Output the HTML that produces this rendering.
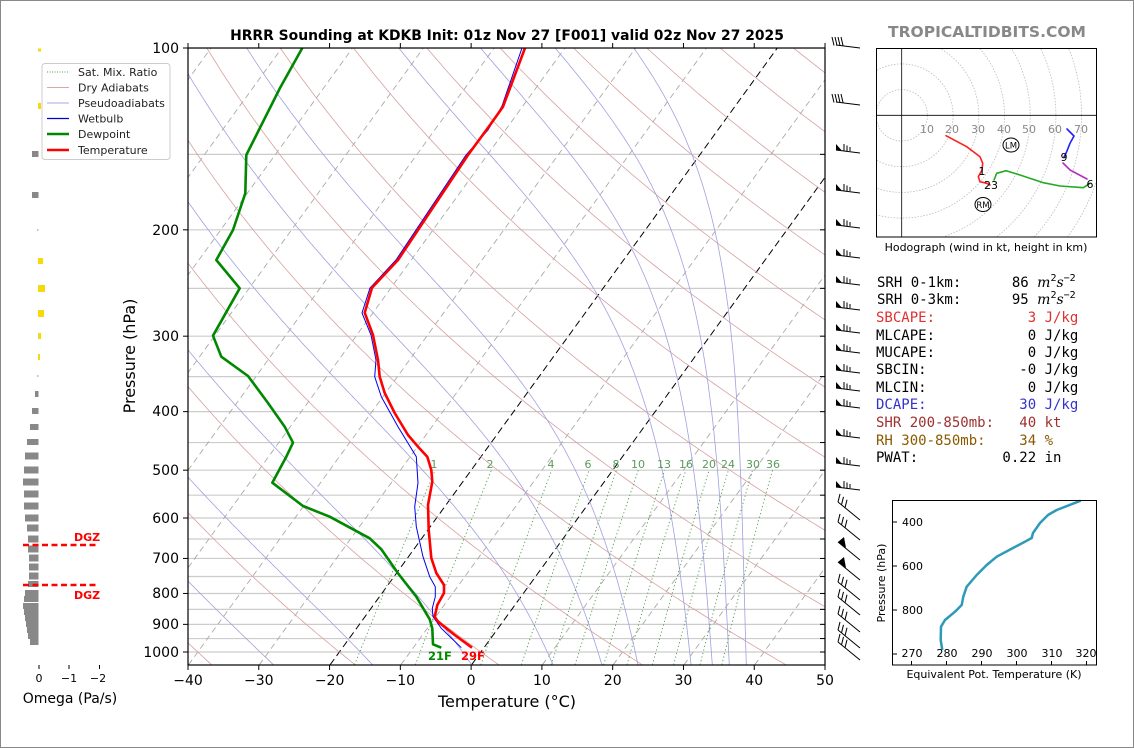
<!DOCTYPE html>
<html><head><meta charset="utf-8"><style>
html,body{margin:0;padding:0;background:#fff;}
svg{display:block;font-family:"DejaVu Sans","Liberation Sans",sans-serif;}
.pre{white-space:pre;}
</style></head><body>
<svg id="s" width="1134" height="748" viewBox="0 0 1134 748" xmlns="http://www.w3.org/2000/svg">
<rect x="0.5" y="0.5" width="1133" height="747" fill="#fff" stroke="#888"/>
<defs>
<clipPath id="cp"><rect x="188" y="48" width="637" height="617"/></clipPath>
<clipPath id="hc"><rect x="876" y="48" width="220" height="189"/></clipPath>
</defs>
<g id="bg" clip-path="url(#cp)"></g>
<g id="prof" clip-path="url(#cp)">
<polyline fill="none" stroke="#0000ee" stroke-width="1" points="522,48 502,106 488,130 466,155 396,260 370,288 362,313 371,335 376,360 374.7,376.7 381.3,396.7 398,426.7 416.3,456.7 418,483 414.7,506.7 416.3,526.7 423,556.7 429.7,576.7 435.3,586.7 435.3,596.7 432.3,608.3 433,616.7 441.3,628.3 461.3,647.7"/>
<polyline fill="none" stroke="#008800" stroke-width="2.6" stroke-linejoin="round" points="302.3,48 280,88 246.3,155 245.3,193.3 233,230 216.3,260 239.7,288.3 213,335.7 221.3,356.7 248,376 268,403 284.7,426.7 293,442.7 286.3,456.7 272.3,482.7 303,506 329.7,516.7 369.7,538.3 381.3,549.3 398,573.3 416.3,596.7 429.7,619.3 432.3,628.3 433,644.3 441.3,647.7"/>
<polyline fill="none" stroke="#ff0000" stroke-width="2.6" stroke-linejoin="round" points="525,48 503,106.7 490,125 468,155 398,260 372,287.7 364.7,312.7 373,335 378,360 379.7,376.7 384.7,393 394.7,413 408,435 418,446.7 427.3,456.7 431.3,470 432.3,481.7 428,505 428.7,530 431.3,558 436.3,573 444,585 444,593 437.3,605 434.7,616.7 438,621.7 454.7,635 472,647.7"/>
</g>
<g font-size="11" fill="#5a9a5a" text-anchor="middle">
<text x="434" y="468">1</text><text x="490" y="468">2</text><text x="551" y="468">4</text><text x="588" y="468">6</text><text x="616" y="468">8</text><text x="638" y="468">10</text><text x="664" y="468">13</text><text x="686" y="468">16</text><text x="709" y="468">20</text><text x="728" y="468">24</text><text x="753" y="468">30</text><text x="773" y="468">36</text>
</g>
<text x="428" y="660" font-size="11.5" font-weight="bold" fill="#008800">21F</text>
<text x="461" y="660" font-size="11.5" font-weight="bold" fill="#ff0000">29F</text>
<rect x="188" y="48" width="637" height="617" fill="none" stroke="#000" stroke-width="1.2"/>
<g id="ticks" stroke="#000" stroke-width="1"></g>
<g font-size="14" fill="#000" text-anchor="end">
<text x="179" y="53">100</text><text x="179" y="235">200</text><text x="179" y="341">300</text><text x="179" y="416">400</text><text x="179" y="475">500</text><text x="179" y="523">600</text><text x="179" y="563">700</text><text x="179" y="598">800</text><text x="179" y="629">900</text><text x="179" y="657">1000</text>
</g>
<g font-size="14" fill="#000" text-anchor="middle">
<text x="188" y="685">−40</text><text x="258.8" y="685">−30</text><text x="329.6" y="685">−20</text><text x="400.3" y="685">−10</text><text x="471.1" y="685">0</text><text x="541.9" y="685">10</text><text x="612.7" y="685">20</text><text x="683.4" y="685">30</text><text x="754.2" y="685">40</text><text x="825" y="685">50</text>
</g>
<text x="507" y="707" font-size="16" text-anchor="middle">Temperature (°C)</text>
<text transform="translate(135,356) rotate(-90)" font-size="16" text-anchor="middle">Pressure (hPa)</text>
<text x="507" y="40" font-size="13.9" font-weight="bold" text-anchor="middle">HRRR Sounding at KDKB Init: 01z Nov 27 [F001] valid 02z Nov 27 2025</text>
<text x="987" y="37" font-size="15.5" font-weight="bold" fill="#888" text-anchor="middle">TROPICALTIDBITS.COM</text>
<rect x="42" y="63.5" width="128" height="96" rx="3" fill="#fff" stroke="#ccc"/>
<g font-size="11" fill="#222">
<line x1="47" y1="72" x2="69" y2="72" stroke="#4a4" stroke-dasharray="1,1.5"/><text x="78" y="76">Sat. Mix. Ratio</text>
<line x1="47" y1="87.5" x2="69" y2="87.5" stroke="#d9a8a8"/><text x="78" y="91.5">Dry Adiabats</text>
<line x1="47" y1="103" x2="69" y2="103" stroke="#aaaadd"/><text x="78" y="107">Pseudoadiabats</text>
<line x1="47" y1="118.5" x2="69" y2="118.5" stroke="#0000cc" stroke-width="1.2"/><text x="78" y="122.5">Wetbulb</text>
<line x1="47" y1="134" x2="69" y2="134" stroke="#008800" stroke-width="2.5"/><text x="78" y="138">Dewpoint</text>
<line x1="47" y1="150" x2="69" y2="150" stroke="#ff0000" stroke-width="2.5"/><text x="78" y="154">Temperature</text>
</g>
<g id="barbs" stroke="#000" stroke-width="1" fill="#000"></g>
<g id="om" fill="#888"></g>
<g fill="#f5d90a">
<rect x="38" y="48.5" width="3" height="3"/><rect x="38" y="103" width="3" height="6"/>
<rect x="38" y="258" width="5" height="6"/><rect x="38" y="285" width="7" height="7"/><rect x="38" y="310" width="6" height="7"/><rect x="38" y="333" width="3" height="6"/><rect x="38" y="354" width="2" height="6"/>
</g>
<g stroke="#ff0000" stroke-width="2.5" stroke-dasharray="6,3.5">
<line x1="23" y1="545" x2="99" y2="545"/><line x1="23" y1="585" x2="99" y2="585"/>
</g>
<text x="74" y="541" font-size="11" font-weight="bold" fill="#ff0000">DGZ</text>
<text x="74" y="599" font-size="11" font-weight="bold" fill="#ff0000">DGZ</text>
<g stroke="#000"><line x1="39" y1="665" x2="39" y2="669"/><line x1="69" y1="665" x2="69" y2="669"/><line x1="99.5" y1="665" x2="99.5" y2="669"/></g>
<g font-size="11" text-anchor="middle"><text x="39" y="682">0</text><text x="69" y="682">−1</text><text x="98" y="682">−2</text></g>
<text x="70" y="703" font-size="14" text-anchor="middle">Omega (Pa/s)</text>
<g id="hod" clip-path="url(#hc)"></g>
<line x1="876" y1="115.3" x2="1096" y2="115.3" stroke="#000" stroke-width="0.8"/>
<line x1="901.7" y1="48" x2="901.7" y2="237" stroke="#000" stroke-width="0.8"/>
<g font-size="11" fill="#888" text-anchor="middle">
<text x="927" y="133">10</text><text x="952" y="133">20</text><text x="978" y="133">30</text><text x="1004" y="133">40</text><text x="1029" y="133">50</text><text x="1055" y="133">60</text><text x="1081" y="133">70</text>
</g>
<g fill="none" stroke-width="1.6" stroke-linecap="round">
<polyline stroke="#ff2020" points="946,135.7 966.7,146.7 980,156.7 982.7,163.3 982,170 978.3,176.7 980,181.7 986.7,183.3 990,185"/>
<polyline stroke="#22aa22" points="994,180 996.7,173.3 1006,170.7 1020,175 1043.3,182.7 1060,186 1083.3,187.7 1090,183.3"/>
<polyline stroke="#b030c0" points="1087,179 1070,170 1063,163"/>
<polyline stroke="#2020ff" points="1064,157 1066.7,151.7 1070,143.3 1074,136 1067,129"/>
</g>
<g font-size="11" fill="#000" text-anchor="middle">
<text x="982" y="175">1</text><text x="991" y="189">23</text><text x="1090" y="188">6</text><text x="1064" y="161">9</text>
</g>
<ellipse cx="1011" cy="145" rx="8" ry="7" fill="#fff" stroke="#000"/><text x="1011" y="148.5" font-size="8.5" text-anchor="middle">LM</text>
<ellipse cx="983" cy="204.5" rx="8" ry="7" fill="#fff" stroke="#000"/><text x="983" y="208" font-size="8.5" text-anchor="middle">RM</text>
<rect x="876.5" y="48.5" width="220" height="188.5" fill="none" stroke="#000"/>
<text x="986" y="251" font-size="11" text-anchor="middle">Hodograph (wind in kt, height in km)</text>
<g font-family="'DejaVu Sans Mono','Liberation Mono',monospace" font-size="14" class="pre">
<text x="877" y="287" class="pre">SRH 0-1km:      86 <tspan font-style="italic" font-family="DejaVu Serif,serif">m</tspan><tspan font-size="10" dy="-6">2</tspan><tspan font-style="italic" font-family="DejaVu Serif,serif" dy="6">s</tspan><tspan font-size="10" dy="-6">−2</tspan></text>
<text x="877" y="304" class="pre">SRH 0-3km:      95 <tspan font-style="italic" font-family="DejaVu Serif,serif">m</tspan><tspan font-size="10" dy="-6">2</tspan><tspan font-style="italic" font-family="DejaVu Serif,serif" dy="6">s</tspan><tspan font-size="10" dy="-6">−2</tspan></text>
<text x="876" y="322" fill="#e03030" class="pre">SBCAPE:           3 J/kg</text>
<text x="876" y="340" class="pre">MLCAPE:           0 J/kg</text>
<text x="876" y="357" class="pre">MUCAPE:           0 J/kg</text>
<text x="876" y="374" class="pre">SBCIN:           -0 J/kg</text>
<text x="876" y="392" class="pre">MLCIN:            0 J/kg</text>
<text x="876" y="409" fill="#3333cc" class="pre">DCAPE:           30 J/kg</text>
<text x="876" y="427" fill="#a03030" class="pre">SHR 200-850mb:   40 kt</text>
<text x="876" y="445" fill="#8b5a00" class="pre">RH 300-850mb:    34 %</text>
<text x="876" y="462" class="pre">PWAT:          0.22 in</text>
</g>
<polyline fill="none" stroke="#2e9ab8" stroke-width="2.5" stroke-linejoin="round" points="1080.7,500.7 1056.7,510 1048,515 1040,523 1033,533 1031.7,538 1025,541.7 1013,548 996.7,556.7 986.7,565 976.7,575 966.7,586.7 963.3,596.7 961.7,605 955,611.7 945,620 941,626.7 940.7,640 942.3,650"/>
<rect x="892.5" y="500.5" width="204" height="164.5" fill="none" stroke="#000"/>
<g stroke="#000"><line x1="893" y1="522" x2="897" y2="522"/><line x1="893" y1="566" x2="897" y2="566"/><line x1="893" y1="610" x2="897" y2="610"/><line x1="893" y1="654" x2="897" y2="654"/>
<line x1="911.5" y1="665" x2="911.5" y2="661"/><line x1="946.5" y1="665" x2="946.5" y2="661"/><line x1="981.5" y1="665" x2="981.5" y2="661"/><line x1="1016.5" y1="665" x2="1016.5" y2="661"/><line x1="1051.5" y1="665" x2="1051.5" y2="661"/><line x1="1086.5" y1="665" x2="1086.5" y2="661"/></g>
<g font-size="11" text-anchor="start"><text x="902" y="526">400</text><text x="902" y="570">600</text><text x="902" y="614">800</text></g>
<g font-size="11" text-anchor="middle"><text x="912" y="657">270</text><text x="947" y="657">280</text><text x="982" y="657">290</text><text x="1017" y="657">300</text><text x="1052" y="657">310</text><text x="1086" y="657">320</text></g>
<text x="994" y="678" font-size="11" text-anchor="middle">Equivalent Pot. Temperature (K)</text>
<text transform="translate(885,583) rotate(-90)" font-size="11" text-anchor="middle">Pressure (hPa)</text>
</svg>
<script>
var NS="http://www.w3.org/2000/svg";
function el(p,n,a){var e=document.createElementNS(NS,n);for(var k in a)e.setAttribute(k,a[k]);p.appendChild(e);return e;}
var X0=471.5,K=7.078,SK=0.725,YB=665;
function Y(p){return 48+604*Math.log10(p/100);}
function X(T,p){return X0+K*T+SK*(YB-Y(p));}
var bg=document.getElementById('bg');
function pl(pts,a){a.points=pts.map(function(q){return q[0].toFixed(1)+','+q[1].toFixed(1)}).join(' ');a.fill='none';el(bg,'polyline',a);}
for(var p=100;p<=1000;p+=50){el(bg,'line',{x1:188,x2:825,y1:Y(p),y2:Y(p),stroke:'#ccc','stroke-width':1.2});}
for(var T=-130;T<=50;T+=10){var blk=(T==0||T==-20);pl([[X(T,1050),Y(1050)],[X(T,100),Y(100)]],{stroke:blk?'#000':'#aaa','stroke-width':blk?1:0.9,'stroke-dasharray':blk?'7,4':'6,4'});}
for(var th=233.15;th<=600;th+=20){var a=[];for(var p=1050;p>=100;p-=10){var t=th*Math.pow(p/1000,0.2857)-273.15;a.push([X(t,p),Y(p)]);}pl(a,{stroke:'#d9a0a0','stroke-width':0.8});}
function es(t){return 6.112*Math.exp(17.67*t/(t+243.5));}
function dTdp(t,p){var Tk=t+273.15,e=es(t),rs=0.622*e/(p-e),Lv=2.501e6,Rd=287.04,Cp=1005.7;return (1/p)*(Rd*Tk+Lv*rs)/(Cp+Lv*Lv*rs*0.622/(Rd*Tk*Tk));}
[-40,-28,-14,0,11.5,18.4,23.5,31,34,36.4,38.8].forEach(function(t0){var a=[],t=t0;for(var p=1050;p>=100;p-=2){a.push([X(t,p),Y(p)]);t-=dTdp(t,p)*2;}pl(a,{stroke:'#a0a0e0','stroke-width':0.8});});
[1,2,4,6,8,10,13,16,20,24,30,36].forEach(function(w){var a=[];for(var p=1050;p>=500;p-=10){var e=w*p/(622+w),L=Math.log(e/6.112),td=243.5*L/(17.67-L);a.push([X(td,p),Y(p)]);}pl(a,{stroke:'#4a9a4a','stroke-width':0.9,'stroke-dasharray':'1.2,2.5'});});
var tk=document.getElementById('ticks');
[100,200,300,400,500,600,700,800,900,1000].forEach(function(p){el(tk,'line',{x1:183,x2:188,y1:Y(p),y2:Y(p)});});
for(var p=100;p<=1000;p+=50){el(tk,'line',{x1:820,x2:825,y1:Y(p),y2:Y(p)});}
for(var i=0;i<=9;i++){var x=188+70.78*i;el(tk,'line',{x1:x,x2:x,y1:665,y2:670});el(tk,'line',{x1:x,x2:x,y1:43,y2:48});}
var bb=document.getElementById('barbs');
[45,102,150,190,225,255,282,307,330,350,370,388,405,435,463,487].forEach(function(y,i){
 el(bb,'line',{x1:836,y1:y,x2:860,y2:y+3});
 if(i>1){el(bb,'polygon',{points:'836,'+(y-6)+' 836,'+y+' 842,'+(y+0.8),stroke:'none'});for(var j=0;j<3;j++){var x=844+j*3;el(bb,'line',{x1:x,y1:y+1,x2:x,y2:y-6+j*1.5});}}
 else{for(var j=0;j<4;j++){var x=834+j*3;el(bb,'line',{x1:x,y1:y+0.5,x2:x-2,y2:y-8});}}
});
[510,530,550,570,590,605,622,638,650].forEach(function(y,i){
 el(bb,'line',{x1:838,y1:y-8,x2:860,y2:y+10});
 if(i==2||i==3){el(bb,'polygon',{points:'838,'+(y-8)+' 846,'+(y-2)+' 844,'+(y-13),stroke:'none'});}
 else{for(var j=0;j<3;j++){var x=838+j*3.5,yy=y-8+j*2.9;el(bb,'line',{x1:x,y1:yy,x2:x+2,y2:yy-8});}}
});
var om=document.getElementById('om');
[[154,32,6],[195,32,6],[230,37,1],[376,37,1],[394,35,6],[411,32,6],[427,30,6],[442,27,6],[456,25,7],[470,24,7],[482,23,7],[494,24,7],[506,24,7],[518,25,7],[528,27,7],[539,28,7],[549,28,7],[558,29,7],[567,29,7],[576,29,7],[584,28,6],[593,25,6],[599,24,6],[606,23,6],[612,24,6],[618,25,6],[624,26,6],[630,27,6],[636,28,6],[642,30,6]].forEach(function(b){el(om,'rect',{x:b[1],y:b[0]-b[2]/2,width:38.5-b[1],height:b[2]});});
var hd=document.getElementById('hod');
for(var k=1;k<=12;k++){el(hd,'circle',{cx:901.7,cy:115.3,r:25.7*k,fill:'none',stroke:'#bbb','stroke-width':0.8,'stroke-dasharray':'1.5,1.5'});}
</script>
</body></html>
